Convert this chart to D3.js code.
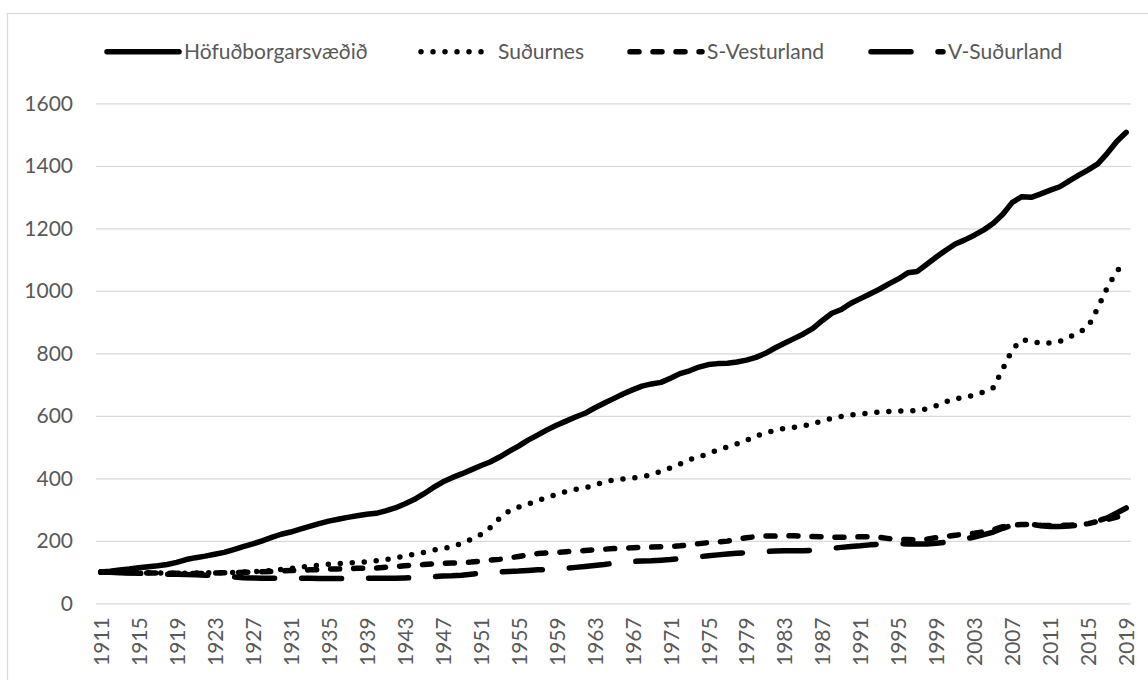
<!DOCTYPE html>
<html>
<head>
<meta charset="utf-8">
<script src="https://cdn.jsdelivr.net/npm/d3@7"></script>
<style>
    body { margin: 0; background: #fff; }
    text { font-family: Lato, "Open Sans", sans-serif; }
</style>
</head>
<body>
<svg id="chart" width="1148" height="680"></svg>
<script>
// Index, 1911 = 100
const years = d3.range(1911, 2020);

const hofud = [
    100, 103, 107, 110, 114, 117, 120, 124, 131, 140,
    146, 151, 157, 163, 172, 181, 190, 200, 211, 221,
    228, 237, 246, 255, 263, 269, 275, 280, 285, 288,
    296, 305, 318, 332, 350, 370, 388, 402, 414, 427,
    440, 452, 468, 486, 503, 522, 538, 555, 570, 583,
    596, 608, 625, 640, 655, 670, 683, 695, 702, 707,
    720, 735, 744, 756, 764, 767, 768, 772, 778, 787,
    800, 817, 832, 847, 862, 880, 905, 928, 940, 960,
    975, 990, 1005, 1022, 1038, 1058, 1062, 1085, 1108, 1130,
    1150, 1163, 1178, 1195, 1216, 1245, 1283, 1301, 1299, 1310,
    1322, 1333, 1352, 1370, 1387, 1406, 1440, 1478, 1507
];

const sudurnes = [
    100, 100, 99, 99, 98, 98, 97, 97, 96, 96,
    97, 97, 98, 98, 99, 100, 101, 103, 105, 108,
    111, 115, 119, 122, 125, 127, 129, 131, 133, 136,
    140, 145, 151, 157, 163, 170, 175, 181, 192, 205,
    220, 242, 272, 295, 308, 318, 328, 340, 348, 358,
    365, 369, 378, 388, 395, 398, 401, 405, 412, 422,
    433, 446, 460, 468, 480, 490, 500, 510, 521, 535,
    545, 553, 560, 563, 567, 575, 584, 592, 598, 603,
    606, 609, 612, 614, 615, 616, 616, 622, 632, 645,
    654, 660, 666, 676, 690, 750, 812, 843, 840, 831,
    833, 838, 852, 866, 885, 945, 1010, 1063, 1095
];

const sVesturland = [
    100, 99, 99, 98, 98, 97, 97, 96, 96, 95,
    95, 96, 97, 98, 98, 99, 100, 101, 102, 104,
    105, 106, 107, 108, 110, 110, 111, 112, 112, 113,
    115, 117, 120, 122, 124, 126, 128, 129, 130, 132,
    135, 138, 141, 145, 150, 155, 159, 161, 163, 165,
    167, 169, 171, 173, 175, 176, 178, 179, 180, 181,
    182, 184, 187, 191, 194, 196, 199, 205, 210, 213,
    215, 215, 216, 216, 215, 214, 213, 212, 211, 212,
    213, 213, 211, 207, 205, 204, 203, 205, 210, 214,
    218, 221, 224, 229, 236, 245, 250, 252, 252, 250,
    249, 249, 250, 251, 255, 262, 268, 276, 285
];

const vSudurland = [
    100, 99, 98, 97, 96, 95, 94, 93, 93, 92,
    91, 90, 89, 87, 84, 82, 81, 80, 80, 80,
    80, 80, 80, 79, 79, 79, 80, 80, 80, 80,
    80, 80, 81, 82, 83, 85, 87, 88, 90, 93,
    96, 99, 101, 102, 103, 105, 107, 108, 110, 112,
    115, 118, 121, 124, 128, 132, 134, 135, 136, 138,
    140, 143, 146, 149, 152, 155, 158, 160, 162, 164,
    166, 167, 168, 168, 168, 170, 173, 176, 179, 182,
    184, 187, 189, 191, 191, 190, 190, 190, 192, 196,
    200, 206, 212, 220, 228, 240, 250, 254, 253, 248,
    246, 246, 247, 250, 256, 264, 273, 289, 305
];

const seriesNames = ["Höfuðborgarsvæðið", "Suðurnes", "S-Vesturland", "V-Suðurland"];
const yTicks = [0, 200, 400, 600, 800, 1000, 1200, 1400, 1600];

// Styles
const dashes = [null, "0 12", "9 14", "40 27"];
const legendX = [107, 421, 630, 871];
const lineWidth = 5.5;
const textColor = "#595959";
const gridColor = "#d9d9d9";
const fontSize = "21px";

const svg = d3.select("#chart");
const margin = { left: 96, right: 17, top: 103.3, bottom: 76.7 };
const width = 1148 - margin.left - margin.right;
const height = 680 - margin.top - margin.bottom;

// Chart area border
svg.append("rect")
   .attr("x", 7.5).attr("y", 13.5)
   .attr("width", 1160).attr("height", 700)
   .attr("fill", "none")
   .attr("stroke", gridColor)
   .attr("stroke-width", 1.3);

const g = svg.append("g")
             .attr("transform", `translate(${margin.left},${margin.top})`);

const x = d3.scalePoint()
            .domain(years)
            .range([0, width])
            .padding(0.5);

const y = d3.scaleLinear()
            .domain([0, 1600])
            .range([height, 0]);

// Y axis with gridlines
const yAxis = g.append("g")
               .call(d3.axisLeft(y)
                       .tickValues(yTicks)
                       .tickSize(-width)
                       .tickPadding(23)
                       .tickFormat(d3.format("d")));
yAxis.select(".domain").remove();
yAxis.selectAll("line")
     .attr("stroke", gridColor)
     .attr("stroke-width", 1.3);
yAxis.selectAll("text")
     .attr("fill", textColor)
     .style("font-size", fontSize);

// X axis labels, every fourth year
const xAxis = g.append("g")
               .attr("transform", `translate(0,${height})`)
               .call(d3.axisBottom(x)
                       .tickValues(years.filter((d, i) => i % 4 === 0))
                       .tickSize(0));
xAxis.select(".domain").remove();
xAxis.selectAll("text")
     .attr("fill", textColor)
     .style("font-size", fontSize)
     .attr("transform", "rotate(-90)")
     .attr("text-anchor", "end")
     .attr("x", -14)
     .attr("y", 0)
     .attr("dy", "0.36em");

// Lines
const seriesValues = [hofud, sudurnes, sVesturland, vSudurland];

const line = d3.line()
               .x((d, i) => x(years[i]))
               .y(d => y(d));

g.selectAll("path.series")
 .data(seriesValues)
 .enter()
 .append("path")
 .attr("class", "series")
 .attr("d", line)
 .attr("fill", "none")
 .attr("stroke", "#000")
 .attr("stroke-width", lineWidth)
 .attr("stroke-linecap", "round")
 .attr("stroke-linejoin", "round")
 .attr("stroke-dasharray", (d, i) => dashes[i]);

// Legend
const legend = svg.append("g");
seriesNames.forEach((name, i) => {
    const item = legend.append("g")
                       .attr("transform", `translate(${legendX[i]},51.7)`);
    item.append("line")
        .attr("x1", 0).attr("x2", 72)
        .attr("y1", 0).attr("y2", 0)
        .attr("stroke", "#000")
        .attr("stroke-width", lineWidth)
        .attr("stroke-linecap", "round")
        .attr("stroke-dasharray", dashes[i]);
    item.append("text")
        .attr("x", 77)
        .attr("dy", "0.36em")
        .attr("fill", textColor)
        .style("font-size", fontSize)
        .text(name);
});
</script>
</body>
</html>
